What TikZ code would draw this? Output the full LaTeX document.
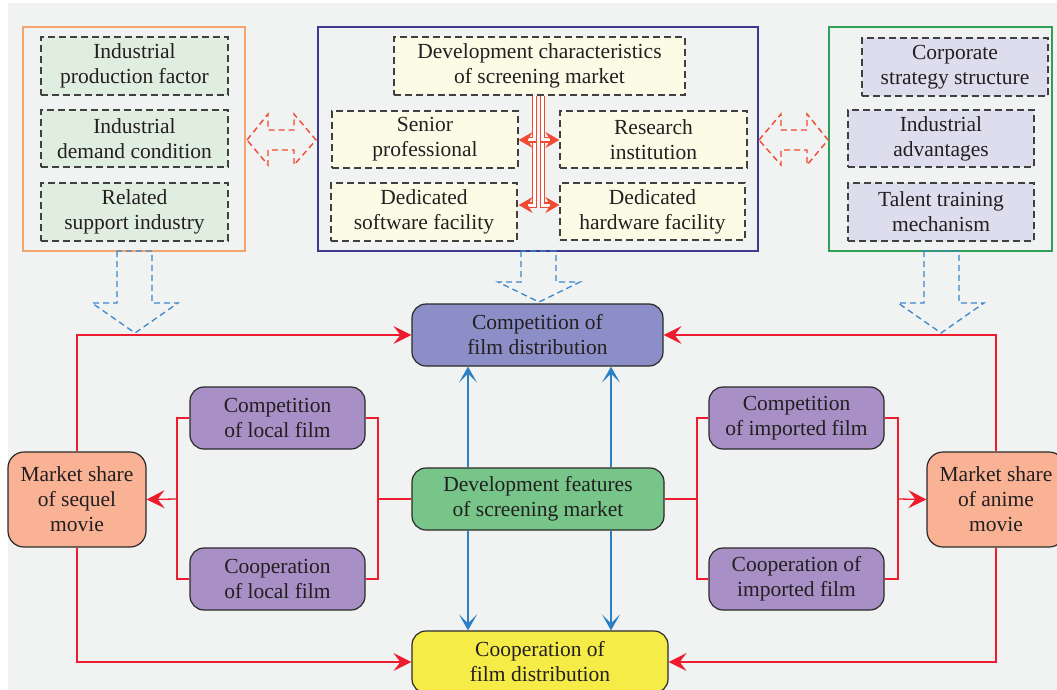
\documentclass[tikz,border=0pt]{standalone}
\usepackage{fontspec}
\setmainfont{Liberation Serif}
\usetikzlibrary{arrows.meta}
\definecolor{bgc}{HTML}{F1F2F2}
\definecolor{txt}{HTML}{231F20}
\definecolor{fr1}{HTML}{F4A46E}
\definecolor{fr2}{HTML}{3B3A8C}
\definecolor{fr3}{HTML}{2FA055}
\definecolor{lgreen}{HTML}{E0EEE0}
\definecolor{lyellow}{HTML}{FBFBE6}
\definecolor{lav}{HTML}{DDDDEE}
\definecolor{dgray}{HTML}{404040}
\definecolor{rdash}{HTML}{F04A30}
\definecolor{rline}{HTML}{EE1C2E}
\definecolor{bl}{HTML}{2B7FC4}
\definecolor{bdash}{HTML}{3A87CB}
\definecolor{cdist}{HTML}{8C8FC7}
\definecolor{gnode}{HTML}{77C589}
\definecolor{ynode}{HTML}{F6EC47}
\definecolor{salm}{HTML}{F9B294}
\definecolor{purp}{HTML}{A890C6}
\definecolor{edge}{HTML}{2A2A2A}
\begin{document}
\begin{tikzpicture}[x=1pt,y=-1pt,
  every node/.style={font=\fontsize{21.5}{25}\selectfont, text=txt, align=center, inner sep=0pt},
  frame/.style={draw, line width=1.2pt},
  dbox/.style={draw=dgray, dash pattern=on 7pt off 4pt, line width=1.3pt},
  rbox/.style={draw=edge, line width=1.2pt, rounded corners=14pt},
  rl/.style={draw=rline, line width=1.3pt},
  rarr/.style={rl, -{Stealth[length=18pt,width=18pt,inset=7pt]}},
  barr/.style={draw=bl, line width=1.5pt, -{Stealth[length=16pt,width=18pt,inset=9pt]}},
  dblarr/.style={draw=rdash, line width=1.3pt, double=white, double distance=3pt, -{Stealth[length=14pt,width=16pt,inset=5pt]}},
  hollowr/.style={draw=rdash, line width=1.4pt, dash pattern=on 6pt off 4pt},
  hollowb/.style={draw=bdash, line width=1.3pt, dash pattern=on 6pt off 4pt}
]
\useasboundingbox (0,0) rectangle (1057,690);
\fill[bgc] (8,3) rectangle (1057,690);

% frames
\node[frame, draw=fr1, minimum width=222pt, minimum height=224pt] (lf) at (134,139) {};
\node[frame, draw=fr2, minimum width=440pt, minimum height=224pt] (mf) at (538,139) {};
\node[frame, draw=fr3, minimum width=223pt, minimum height=224pt] (rf) at (940.5,139) {};

% left boxes
\node[dbox, fill=lgreen, minimum width=187pt, minimum height=58pt] (l1) at (134.5,66) {Industrial\\production factor};
\node[dbox, fill=lgreen, minimum width=187pt, minimum height=57pt] (l2) at (134.5,138.5) {Industrial\\demand condition};
\node[dbox, fill=lgreen, minimum width=187pt, minimum height=58pt] (l3) at (134.5,212) {Related\\support industry};

% middle boxes
\node[dbox, fill=lyellow, minimum width=291pt, minimum height=58pt] (m0) at (539.5,66) {Development characteristics\\of screening market};
\node[dbox, fill=lyellow, minimum width=186pt, minimum height=57pt] (m1) at (425,139.5) {Senior\\professional};
\node[dbox, fill=lyellow, minimum width=187pt, minimum height=57pt] (m2) at (653.5,139.5) {Research\\institution};
\node[dbox, fill=lyellow, minimum width=186pt, minimum height=58pt] (m3) at (424,212) {Dedicated\\software facility};
\node[dbox, fill=lyellow, minimum width=185pt, minimum height=57pt] (m4) at (652.5,211.5) {Dedicated\\hardware facility};

% right boxes
\node[dbox, fill=lav, minimum width=186pt, minimum height=58pt] (r1) at (955,67) {Corporate\\strategy structure};
\node[dbox, fill=lav, minimum width=186pt, minimum height=57pt] (r2) at (941,138.5) {Industrial\\advantages};
\node[dbox, fill=lav, minimum width=186pt, minimum height=58pt] (r3) at (941,212) {Talent training\\mechanism};

% red double arrows inside middle frame
\coordinate (ya) at (0,140);
\coordinate (yb) at (0,205);
\coordinate (xl) at (534.5,0);
\coordinate (xr) at (542.5,0);
\draw[dblarr] (m0.south -| xl) |- (m1.east |- yb);
\draw[dblarr] (m0.south -| xl) |- (m1.east |- ya);
\draw[dblarr] (m0.south -| xr) |- (m2.west |- yb);
\draw[dblarr] (m0.south -| xr) |- (m2.west |- ya);

% hollow dashed double arrows between frames
\draw[hollowr] (247,140) -- (268,114) -- (268,130) -- (294,130) -- (294,114) -- (316,140) -- (294,165) -- (294,150) -- (268,150) -- (268,165) -- cycle;
\draw[hollowr] (759,140) -- (781,114) -- (781,130) -- (807,130) -- (807,114) -- (828,140) -- (807,165) -- (807,150) -- (781,150) -- (781,165) -- cycle;

% hollow dashed down arrows
\draw[hollowb] (117,251) -- (117,303) -- (92,303) -- (135,333) -- (178,303) -- (152,303) -- (152,251) -- cycle;
\draw[hollowb] (521,251) -- (521,282) -- (498,282) -- (539,302) -- (580,282) -- (556,282) -- (556,251) -- cycle;
\draw[hollowb] (924,251) -- (924,303) -- (898,303) -- (941,333) -- (984,303) -- (959,303) -- (959,251) -- cycle;

% bottom nodes
\node[rbox, fill=cdist, minimum width=251pt, minimum height=62pt] (cd) at (537.5,335) {Competition of\\film distribution};
\node[rbox, fill=gnode, minimum width=252pt, minimum height=62pt] (df) at (538,499) {Development features\\of screening market};
\node[rbox, fill=ynode, minimum width=256pt, minimum height=62pt] (co) at (540,662) {Cooperation of\\film distribution};
\node[rbox, fill=salm, minimum width=138pt, minimum height=95pt, rounded corners=16pt] (sq) at (77,499.5) {Market share\\of sequel\\movie};
\node[rbox, fill=salm, minimum width=138pt, minimum height=95pt, rounded corners=16pt] (an) at (996,499.5) {Market share\\of anime\\movie};
\node[rbox, fill=purp, minimum width=175pt, minimum height=62pt] (cl) at (277.5,418) {Competition\\of local film};
\node[rbox, fill=purp, minimum width=175pt, minimum height=62pt] (ol) at (277.5,579) {Cooperation\\of local film};
\node[rbox, fill=purp, minimum width=175pt, minimum height=62pt] (ci) at (796.5,418) {Competition\\of imported film};
\node[rbox, fill=purp, minimum width=175pt, minimum height=62pt] (oi) at (796.5,579) {Cooperation of\\imported film};

% red connectors
\draw[rarr] (sq.north) |- (cd.west);
\draw[rarr] (sq.south) |- (co.west);
\draw[rarr] (an.north) |- (cd.east);
\draw[rarr] (an.south) |- (co.east);

\coordinate (b1) at (378,499);
\coordinate (b2) at (177,499);
\coordinate (b3) at (697,499);
\coordinate (b4) at (898,499);
\draw[rl] (df.west) -- (b1);
\draw[rl] (cl.east) -| (b1);
\draw[rl] (ol.east) -| (b1);
\draw[rl] (cl.west) -| (b2);
\draw[rl] (ol.west) -| (b2);
\draw[rarr] (b2) -- (sq.east);
\draw[rl] (df.east) -- (b3);
\draw[rl] (ci.west) -| (b3);
\draw[rl] (oi.west) -| (b3);
\draw[rl] (ci.east) -| (b4);
\draw[rl] (oi.east) -| (b4);
\draw[rarr] (b4) -- (an.west);

% blue arrows
\coordinate (ba) at (468,0);
\coordinate (bb) at (611,0);
\draw[barr] (df.north -| ba) -- (cd.south -| ba);
\draw[barr] (df.north -| bb) -- (cd.south -| bb);
\draw[barr] (df.south -| ba) -- (co.north -| ba);
\draw[barr] (df.south -| bb) -- (co.north -| bb);
\end{tikzpicture}
\end{document}
